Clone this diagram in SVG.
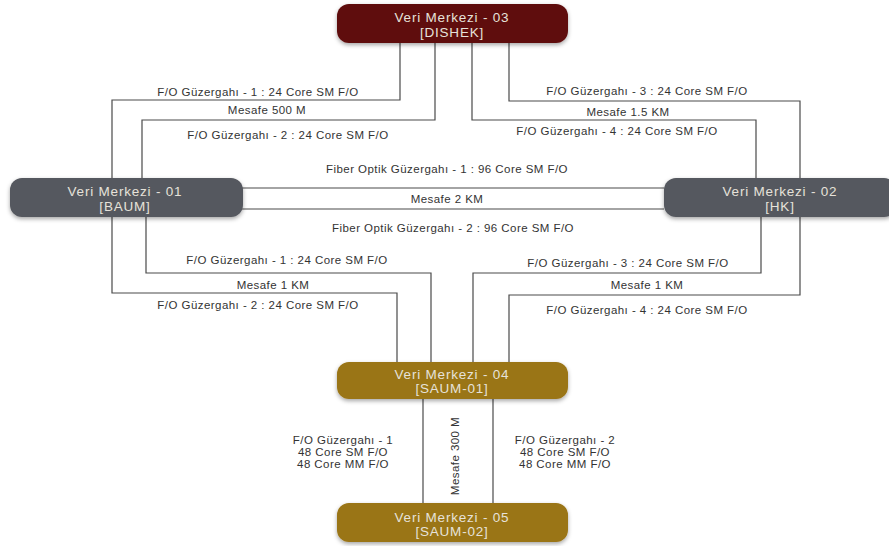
<svg xmlns="http://www.w3.org/2000/svg" width="889" height="546" viewBox="0 0 889 546">
<defs>
<filter id="sh" x="-10%" y="-20%" width="120%" height="160%">
<feDropShadow dx="0" dy="2" stdDeviation="2" flood-color="#000" flood-opacity="0.35"/>
</filter>
<style>
.ln{fill:none;stroke:#4a4a4a;stroke-width:1.2}
.lb{font-family:"Liberation Sans",Arial,sans-serif;font-size:11.5px;letter-spacing:0.45px;fill:#333;text-anchor:middle}
.nt{font-family:"Liberation Sans",Arial,sans-serif;font-size:13.5px;letter-spacing:0.8px;fill:#e6e2da;text-anchor:middle}
.red{fill:#5e0b0c}
.gray{fill:#55585f}
.gold{fill:#9a7417}
</style>
</defs>
<rect width="889" height="546" fill="#fff"/>
<g id="connectors">
<path class="ln" d="M400 43 V100 H112 V178"/>
<path class="ln" d="M435 43 V120 H142 V178"/>
<path class="ln" d="M472 43 V120 H756 V178"/>
<path class="ln" d="M509 43 V101 H800 V178"/>
<path class="ln" d="M242 188 H664"/>
<path class="ln" d="M242 209 H664"/>
<path class="ln" d="M146 217 V273 H431 V362"/>
<path class="ln" d="M112 217 V293 H397 V362"/>
<path class="ln" d="M761 217 V273 H473 V362"/>
<path class="ln" d="M800 217 V295 H509 V362"/>
<path class="ln" d="M423 398 V503"/>
<path class="ln" d="M493 398 V503"/>
<text class="lb" x="258" y="96">F/O Güzergahı - 1 : 24 Core SM F/O</text>
<text class="lb" x="267" y="114">Mesafe 500 M</text>
<text class="lb" x="288" y="139">F/O Güzergahı - 2 : 24 Core SM F/O</text>
<text class="lb" x="647" y="95">F/O Güzergahı - 3 : 24 Core SM F/O</text>
<text class="lb" x="628" y="116">Mesafe 1.5 KM</text>
<text class="lb" x="617" y="135">F/O Güzergahı - 4 : 24 Core SM F/O</text>
<text class="lb" x="447" y="173">Fiber Optik Güzergahı - 1 : 96 Core SM F/O</text>
<text class="lb" x="447" y="203">Mesafe 2 KM</text>
<text class="lb" x="453" y="232">Fiber Optik Güzergahı - 2 : 96 Core SM F/O</text>
<text class="lb" x="287" y="264">F/O Güzergahı - 1 : 24 Core SM F/O</text>
<text class="lb" x="273" y="289">Mesafe 1 KM</text>
<text class="lb" x="258" y="309">F/O Güzergahı - 2 : 24 Core SM F/O</text>
<text class="lb" x="628" y="267">F/O Güzergahı - 3 : 24 Core SM F/O</text>
<text class="lb" x="647" y="289">Mesafe 1 KM</text>
<text class="lb" x="647" y="314">F/O Güzergahı - 4 : 24 Core SM F/O</text>
<text class="lb" x="343" y="444">F/O Güzergahı - 1</text>
<text class="lb" x="343" y="456">48 Core SM F/O</text>
<text class="lb" x="343" y="468">48 Core MM F/O</text>
<text class="lb" x="565" y="444">F/O Güzergahı - 2</text>
<text class="lb" x="565" y="456">48 Core SM F/O</text>
<text class="lb" x="565" y="468">48 Core MM F/O</text>
<text class="lb" transform="translate(459 456) rotate(-90)">Mesafe 300 M</text>
</g>
<g id="node03">
<rect class="red" x="337" y="4" width="231" height="39" rx="12" filter="url(#sh)"/>
<text class="nt" x="452" y="22">Veri Merkezi - 03</text>
<text class="nt" x="452" y="37">[DISHEK]</text>
</g>
<g id="node01">
<rect class="gray" x="10" y="178" width="233" height="39" rx="12" filter="url(#sh)"/>
<text class="nt" x="125" y="196">Veri Merkezi - 01</text>
<text class="nt" x="125" y="211">[BAUM]</text>
</g>
<g id="node02">
<rect class="gray" x="664" y="178" width="232" height="39" rx="12" filter="url(#sh)"/>
<text class="nt" x="780" y="196">Veri Merkezi - 02</text>
<text class="nt" x="780" y="211">[HK]</text>
</g>
<g id="node04">
<rect class="gold" x="337" y="362" width="231" height="37" rx="12" filter="url(#sh)"/>
<text class="nt" x="452" y="379">Veri Merkezi - 04</text>
<text class="nt" x="452" y="393">[SAUM-01]</text>
</g>
<g id="node05">
<rect class="gold" x="337" y="503" width="231" height="39" rx="12" filter="url(#sh)"/>
<text class="nt" x="452" y="522">Veri Merkezi - 05</text>
<text class="nt" x="452" y="536">[SAUM-02]</text>
</g>
</svg>
